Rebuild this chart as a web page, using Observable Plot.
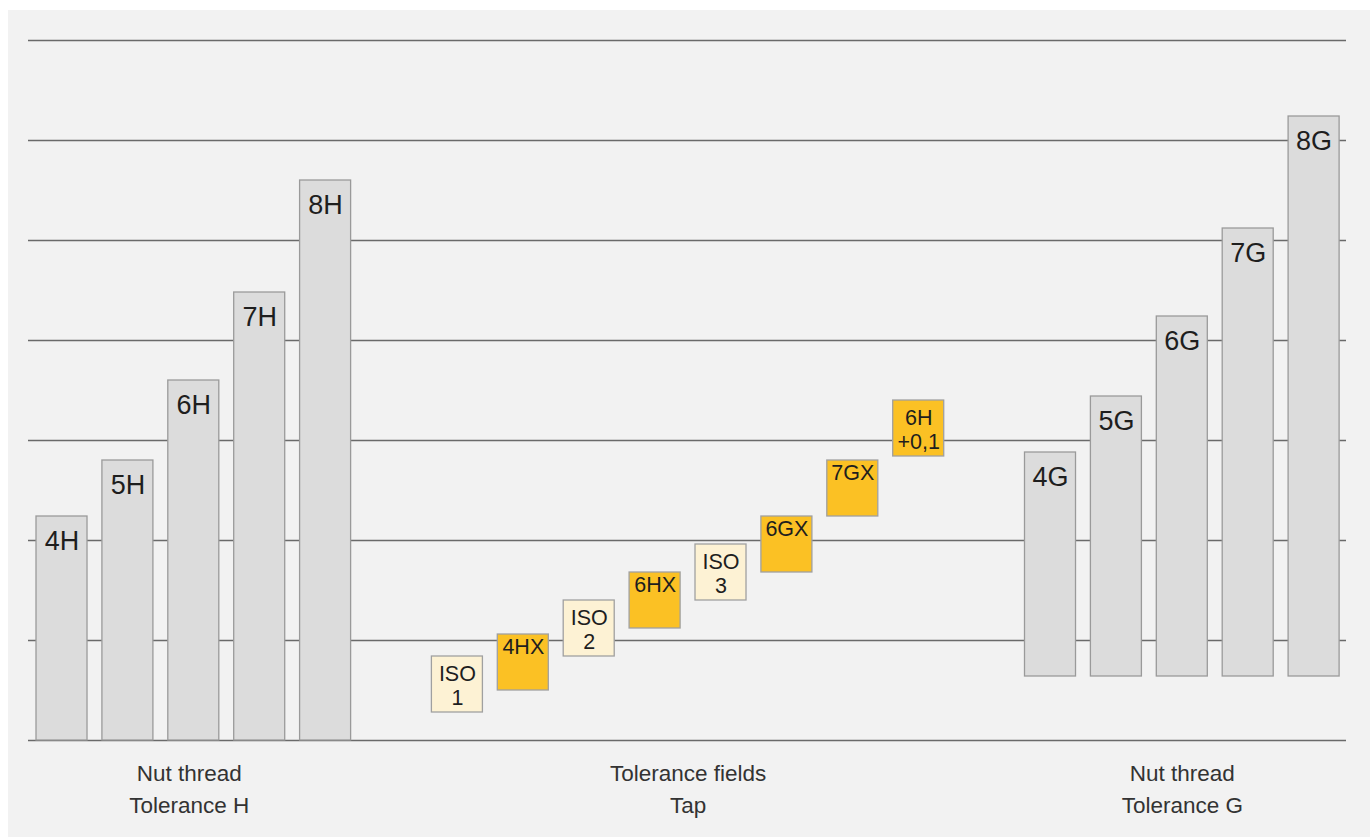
<!DOCTYPE html>
<html>
<head>
<meta charset="utf-8">
<script src="https://cdn.jsdelivr.net/npm/d3@7"></script>
<script src="https://cdn.jsdelivr.net/npm/@observablehq/plot@0.6"></script>
<style>
  html, body { margin: 0; padding: 0; background: #ffffff; }
  #wrap { position: relative; width: 1370px; height: 837px; overflow: hidden; }
  #panel { position: absolute; left: 8px; top: 10px; right: 0; bottom: 0; background: #f2f2f2; }
  #chart { position: absolute; left: 0; top: 0; }
</style>
</head>
<body>
<div id="wrap"><div id="panel"></div><div id="chart"></div></div>
<script>
// Nut thread, tolerance H (bars from zero)
const hLabels = ["4H", "5H", "6H", "7H", "8H"];
const hTops = [224, 280, 360, 448, 560];

// Tap tolerance fields (floating boxes)
const tapLabels = ["ISO\n1", "4HX", "ISO\n2", "6HX", "ISO\n3", "6GX", "7GX", "6H\n+0,1"];
const tapLow = [28, 50, 84, 112, 140, 168, 224, 284];
const tapHigh = [84, 106, 140, 168, 196, 224, 280, 340];
const tapKind = ["ISO", "X", "ISO", "X", "ISO", "X", "X", "X"];

// Nut thread, tolerance G (bars from fundamental deviation)
const gLabels = ["4G", "5G", "6G", "7G", "8G"];
const gBase = [64, 64, 64, 64, 64];
const gTops = [288, 344, 424, 512, 624];

const groupLabels = ["Nut thread\nTolerance H", "Tolerance fields\nTap", "Nut thread\nTolerance G"];
const gridTicks = [0, 100, 200, 300, 400, 500, 600, 700];

// layout: slot indices
const W = 0.774;
const hBars = hLabels.map((l, i) => ({label: l, x1: i, x2: i + W, y1: 0, y2: hTops[i]}));
const tapBoxes = tapLabels.map((l, i) => ({label: l, kind: tapKind[i], x1: 6 + i, x2: 6 + i + W, y1: tapLow[i], y2: tapHigh[i]}));
const gBars = gLabels.map((l, i) => ({label: l, x1: 15 + i, x2: 15 + i + W, y1: gBase[i], y2: gTops[i]}));
const bars = hBars.concat(gBars);
const groups = [
  {label: groupLabels[0], x: (hBars[0].x1 + hBars[4].x2) / 2 - 0.07},
  {label: groupLabels[1], x: (tapBoxes[0].x1 + tapBoxes[7].x2) / 2},
  {label: groupLabels[2], x: (gBars[0].x1 + gBars[4].x2) / 2}
];
const tapSingle = tapBoxes.filter(d => !d.label.includes("\n"));
const tapMulti = tapBoxes.filter(d => d.label.includes("\n"));

const font = "'Liberation Sans', Arial, Helvetica, sans-serif";

const chart = Plot.plot({
  width: 1370,
  height: 837,
  marginLeft: 28,
  marginRight: 24,
  marginTop: 40,
  marginBottom: 97,
  x: {domain: [0, 20], range: [36, 1354], axis: null},
  y: {domain: [0, 700], axis: null},
  style: {background: "transparent", fontFamily: font},
  marks: [
    Plot.ruleY(gridTicks, {stroke: "#6a6a6a", strokeWidth: 1.4}),
    Plot.rect(bars, {x1: "x1", x2: "x2", y1: "y1", y2: "y2", fill: "#dcdcdc", stroke: "#9a9a9a", strokeWidth: 1.3}),
    Plot.rect(tapBoxes, {x1: "x1", x2: "x2", y1: "y1", y2: "y2",
      fill: d => d.kind === "ISO" ? "#fdf2d4" : "#fbc124", stroke: "#a0a0a0", strokeWidth: 1.3}),
    Plot.text(bars, {x: d => (d.x1 + d.x2) / 2, y: "y2", text: "label", lineAnchor: "top", dy: 14,
      fontSize: 27, fill: "#1e1e1e"}),
    Plot.text(tapSingle, {x: d => (d.x1 + d.x2) / 2, y: "y2", text: "label", lineAnchor: "top", dy: 4,
      fontSize: 21.5, fill: "#1e1e1e"}),
    Plot.text(tapMulti, {x: d => (d.x1 + d.x2) / 2, y: "y2", text: "label", lineAnchor: "top", dy: 7,
      fontSize: 21.5, lineHeight: 1.12, fill: "#1e1e1e"}),
    Plot.text(groups, {x: "x", text: "label", frameAnchor: "bottom", lineAnchor: "top", dy: 18,
      fontSize: 22.5, lineHeight: 1.42, fill: "#333333"})
  ]
});
document.getElementById("chart").appendChild(chart);
</script>
</body>
</html>
